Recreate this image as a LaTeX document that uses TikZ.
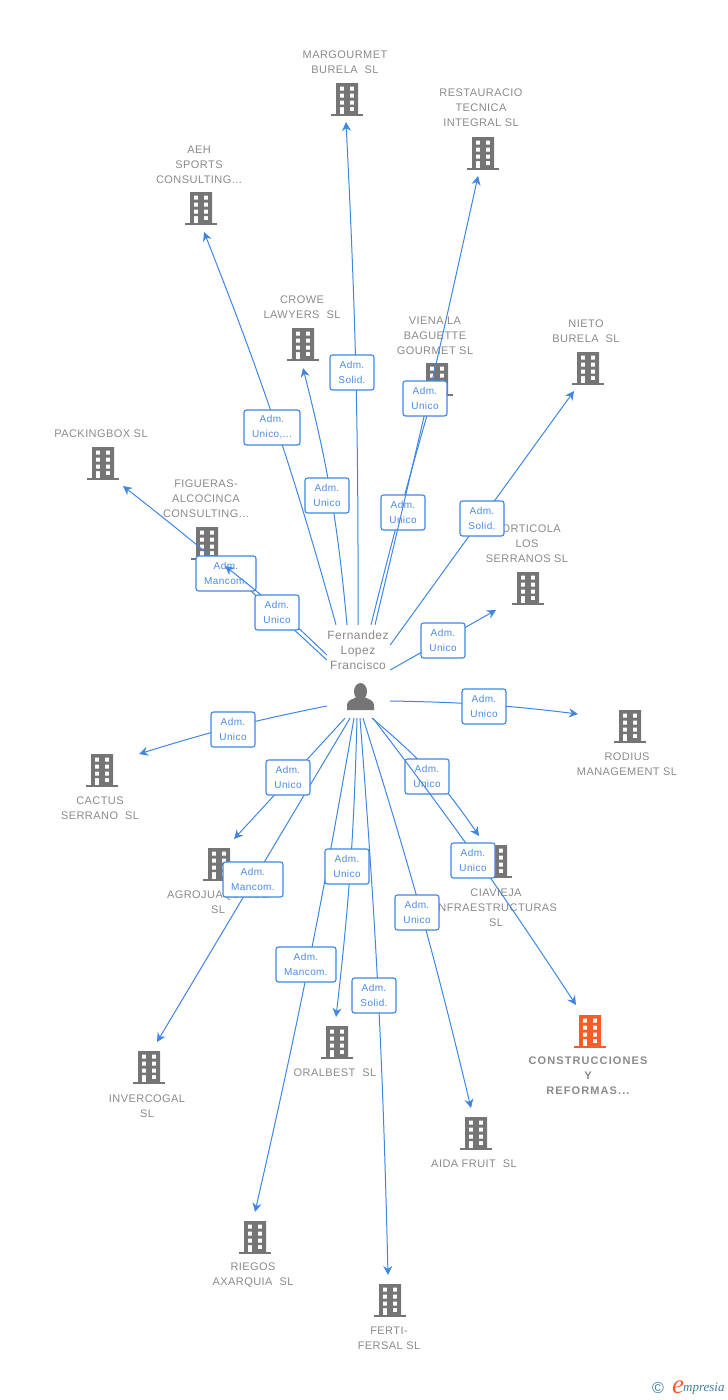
\documentclass[tikz,border=0pt]{standalone}
\usepackage{fontspec}
\setmainfont{Liberation Sans}[LetterSpace=4]
\newfontfamily\boldlabel{Liberation Sans Bold}[LetterSpace=10]
\newfontfamily\logofont{Liberation Serif Italic}
\usetikzlibrary{arrows.meta}
\definecolor{linkblue}{HTML}{3F86E2}
\definecolor{tagblue}{HTML}{4A8CE4}
\definecolor{icongray}{HTML}{757575}
\definecolor{textgray}{HTML}{8A8A8A}
\definecolor{iconorange}{HTML}{FF5A2B}
\definecolor{logoteal}{HTML}{3F7F9E}
\tikzset{
  firm/.style={minimum width=32pt,minimum height=34pt,inner sep=0pt,path picture={
    \begin{scope}[shift={(path picture bounding box.center)}]
      \fill[#1,even odd rule] (-11,-17) rectangle (11,15)
        (-7.2,-13.5) rectangle (-2.8,-9.3) (2.8,-13.5) rectangle (7.2,-9.3)
        (-7.2,-6.5) rectangle (-2.8,-2.3) (2.8,-6.5) rectangle (7.2,-2.3)
        (-7.2,0.5) rectangle (-2.8,4.7) (2.8,0.5) rectangle (7.2,4.7)
        (-7.2,7) rectangle (-2.8,15) (2.8,7) rectangle (7.2,11.2);
      \fill[#1] (-16,14) rectangle (16,16);
    \end{scope}}},
  firmlabel/.style={align=center,inner sep=0pt,yshift=-1pt,text=textgray,font=\fontsize{11}{15}\selectfont},
  link/.style={draw=linkblue,line width=1pt,-{Stealth[length=9pt,width=9pt]}},
  tag/.style={draw=linkblue,fill=white,rounded corners=2.5pt,line width=1.1pt,text=tagblue,yshift=-0.5pt,
    minimum width=44pt,minimum height=35pt,inner sep=0pt,align=center,font=\fontsize{10}{15}\selectfont},
}
\begin{document}
\begin{tikzpicture}[x=1pt,y=-1pt]
  \useasboundingbox (0,0) rectangle (728,1400);
  \node[firm=icongray] (marg) at (347,100) {};
  \node[firmlabel] (marglabel) at (345,61) {MARGOURMET\\BURELA\ \ SL};
  \node[firm=icongray] (rest) at (483,154) {};
  \node[firmlabel] (restlabel) at (481,107) {RESTAURACIO\\TECNICA\\INTEGRAL SL};
  \node[firm=icongray] (aeh) at (201,209) {};
  \node[firmlabel] (aehlabel) at (199,164) {AEH\\SPORTS\\CONSULTING...};
  \node[firm=icongray] (crowe) at (303,345) {};
  \node[firmlabel] (crowelabel) at (302,306) {CROWE\\LAWYERS\ \ SL};
  \node[firm=icongray] (viena) at (437,380) {};
  \node[firmlabel] (vienalabel) at (435,335) {VIENA LA\\BAGUETTE\\GOURMET SL};
  \node[firm=icongray] (nieto) at (588,369) {};
  \node[firmlabel] (nietolabel) at (586,330) {NIETO\\BURELA\ \ SL};
  \node[firm=icongray] (pack) at (103,464) {};
  \node[firmlabel] (packlabel) at (101,433) {PACKINGBOX SL};
  \node[firm=icongray] (figu) at (207,544) {};
  \node[firmlabel] (figulabel) at (206,498) {FIGUERAS-\\ALCOCINCA\\CONSULTING...};
  \node[firm=icongray] (hort) at (528,589) {};
  \node[firmlabel] (hortlabel) at (527,543) {HORTICOLA\\LOS\\SERRANOS SL};
  \node[firm=icongray] (rodius) at (630,727) {};
  \node[firmlabel] (rodiuslabel) at (627,763) {RODIUS\\MANAGEMENT SL};
  \node[firm=icongray] (cactus) at (102,771) {};
  \node[firmlabel] (cactuslabel) at (100,807) {CACTUS\\SERRANO\ \ SL};
  \node[firm=icongray] (agro) at (219,865) {};
  \node[firmlabel] (agrolabel) at (218,901) {AGROJUAQUINOS\\SL};
  \node[firm=icongray] (ciav) at (496,862) {};
  \node[firmlabel] (ciavlabel) at (496,907) {CIAVIEJA\\INFRAESTRUCTURAS\\SL};
  \node[firm=icongray] (inver) at (149,1068) {};
  \node[firmlabel] (inverlabel) at (147,1105) {INVERCOGAL\\SL};
  \node[firm=icongray] (oral) at (337,1043) {};
  \node[firmlabel] (orallabel) at (335,1072) {ORALBEST\ \ SL};
  \node[firm=iconorange] (constr) at (590,1032) {};
  \node[firmlabel,font=\fontsize{11}{15}\boldlabel] (constrlabel) at (588,1075) {CONSTRUCCIONES\\Y\\REFORMAS...};
  \node[firm=icongray] (aida) at (476,1134) {};
  \node[firmlabel] (aidalabel) at (474,1163) {AIDA FRUIT\ \ SL};
  \node[firm=icongray] (riegos) at (255,1238) {};
  \node[firmlabel] (riegoslabel) at (253,1274) {RIEGOS\\AXARQUIA\ \ SL};
  \node[firm=icongray] (ferti) at (390,1301) {};
  \node[firmlabel] (fertilabel) at (389,1337) {FERTI-\\FERSAL SL};

  \node[minimum width=63pt,minimum height=93pt,inner sep=0pt] (hub) at (358.5,671.5) {};
  \node[firmlabel,font=\fontsize{12}{15}\selectfont] (hublabel) at (358,649) {Fernandez\\Lopez\\Francisco};
  \node[minimum width=28pt,minimum height=28pt,inner sep=0pt,path picture={
    \begin{scope}[shift={(path picture bounding box.center)}]
      \fill[icongray] (0,-5.5) ellipse (6.5 and 8.5);
      \fill[icongray] (-13.5,13) -- (-13.5,8) .. controls (-13.5,3) and (-8,2.5) .. (-4,0)
        -- (4,0) .. controls (8,2.5) and (13.5,3) .. (13.5,8) -- (13.5,13) -- cycle;
    \end{scope}}] (person) at (360.5,697) {};

  \draw[link] ([xshift=-0.5]hub.north) to[bend right=1.5] ([shift={(-1,22)}]marg.center);
  \node[tag] (margtag) at (352,372) {Adm.\\Solid.};
  \draw[link] ([xshift=-22.5]hub.north) to[bend right=3] ([shift={(3,23)}]aeh.center);
  \node[tag,minimum width=56pt] (aehtag) at (272,427) {Adm.\\Unico,...};
  \draw[link] ([xshift=-11.5]hub.north) to[bend right=4.5] ([shift={(0,23)}]crowe.center);
  \node[tag] (crowetag) at (327,495) {Adm.\\Unico};
  \draw[link] ([xshift=12.5]hub.north) to[bend left=1] ([shift={(-5,18)}]viena.center);
  \node[tag] (vienatag) at (403,512) {Adm.\\Unico};
  \draw[link] ([xshift=16.5]hub.north) to[bend right=0.5] ([shift={(-5,22)}]rest.center);
  \node[tag] (resttag) at (425,398) {Adm.\\Unico};
  \draw[link] ([yshift=26.5]hub.east) to ([shift={(-14,22)}]nieto.center);
  \node[tag] (nietotag) at (482,518) {Adm.\\Solid.};
  \draw[link] ([yshift=11.5]hub.west) to[bend right=2.5] ([shift={(20,22)}]pack.center);
  \node[tag,minimum width=60pt] (packtag) at (226,573) {Adm.\\Mancom.};
  \draw[link] ([yshift=16.5]hub.west) to[bend right=3] ([shift={(18,22)}]figu.center);
  \node[tag] (figutag) at (277,612) {Adm.\\Unico};
  \draw[link] ([yshift=1.5]hub.east) to ([shift={(-32,21)}]hort.center);
  \node[tag] (horttag) at (443,640) {Adm.\\Unico};
  \draw[link] ([yshift=-29.5]hub.east) to[bend left=3] ([shift={(-52,-13)}]rodius.center);
  \node[tag] (rodiustag) at (484,706) {Adm.\\Unico};
  \draw[link] ([yshift=-34.5]hub.west) to[bend right=3] ([shift={(37,-17)}]cactus.center);
  \node[tag] (cactustag) at (233,729) {Adm.\\Unico};
  \draw[link] ([xshift=-8.5]hub.south) to ([shift={(8,-26)}]inver.center);
  \node[tag,minimum width=60pt] (invertag) at (253,879) {Adm.\\Mancom.};
  \draw[link] ([xshift=-13.5]hub.south) to ([shift={(15,-26)}]agro.center);
  \node[tag] (agrotag) at (288,777) {Adm.\\Unico};
  \draw[link] ([xshift=-4.5]hub.south) to[bend left=1.5] ([shift={(0,-26)}]riegos.center);
  \node[tag,minimum width=60pt] (riegostag) at (306,964) {Adm.\\Mancom.};
  \draw[link] ([xshift=-1.5]hub.south) to[bend left=2.5] ([shift={(-1,-26)}]oral.center);
  \node[tag] (oraltag) at (347,866) {Adm.\\Unico};
  \draw[link] ([xshift=1.5]hub.south) to[bend left=1.5] ([shift={(-2,-26)}]ferti.center);
  \node[tag] (fertitag) at (374,995) {Adm.\\Solid.};
  \draw[link] ([xshift=4.5]hub.south) to[bend left=2] ([shift={(-5,-26)}]aida.center);
  \node[tag] (aidatag) at (417,912) {Adm.\\Unico};
  \draw[link] ([xshift=13.5]hub.south) to[bend left=8] ([shift={(-17,-26)}]ciav.center);
  \node[tag] (ciavtag) at (427,776) {Adm.\\Unico};
  \draw[link] ([xshift=14.5]hub.south) to[bend left=2] ([shift={(-14,-27)}]constr.center);
  \node[tag] (constrtag) at (473,860) {Adm.\\Unico};

  \node[inner sep=0pt,text=logoteal,font=\fontsize{16}{16}\selectfont] (copyright) at (658,1388) {©};
  \node[inner sep=0pt,text=iconorange,font=\fontsize{27}{27}\logofont] (logoe) at (678,1387) {e};
  \node[inner sep=0pt,text=logoteal,anchor=west,font=\fontsize{13}{14}\logofont] (logotext) at (683,1389) {mpresia};
\end{tikzpicture}
\end{document}
